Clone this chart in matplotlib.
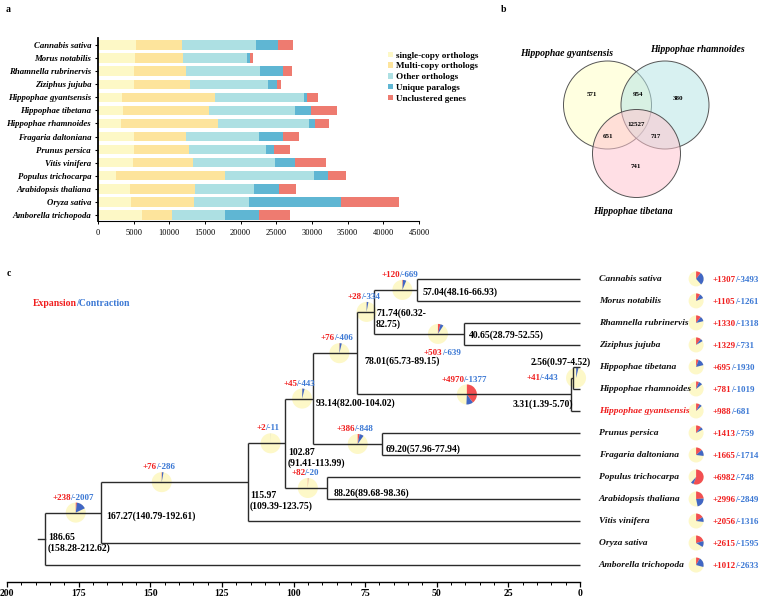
import matplotlib
matplotlib.use("Agg")
import matplotlib.pyplot as plt
import matplotlib.transforms as mtransforms
from matplotlib.patches import Circle, Wedge, Patch
import numpy as np

plt.rcParams['font.family'] = 'serif'
plt.rcParams['font.serif'] = ['Liberation Serif', 'DejaVu Serif']

# ---- panel a data: gene counts per category ----
species_a = ['Cannabis sativa', 'Morus notabilis', 'Rhamnella rubrinervis', 'Ziziphus jujuba',
             'Hippophae gyantsensis', 'Hippophae tibetana', 'Hippophae rhamnoides',
             'Fragaria daltoniana', 'Prunus persica', 'Vitis vinifera', 'Populus trichocarpa',
             'Arabidopsis thaliana', 'Oryza sativa', 'Amborella trichopoda']
single_copy = [5380, 5150, 5050, 5010, 3320, 3510, 3230, 5010, 5010, 4870, 2570, 4440, 4580, 6170]
multi_copy = [6410, 6730, 7250, 7850, 13050, 12020, 13560, 7290, 7710, 8510, 15250, 9170, 8940, 4170]
other_orth = [10340, 8940, 10390, 11000, 12540, 12120, 12770, 10250, 10900, 11410, 12400, 8190, 7670, 7480]
unique_para = [3130, 420, 3230, 1260, 420, 2190, 800, 3410, 1080, 2860, 2060, 3600, 12910, 4770]
unclustered = [2060, 510, 1310, 470, 1540, 3610, 2060, 2250, 2240, 4300, 2480, 2340, 8140, 4310]
categories = ['single-copy orthologs', 'Multi-copy orthologs', 'Other orthologs',
              'Unique paralogs', 'Unclustered genes']
cat_colors = ['#fdf8c6', '#fde49c', '#ade0e3', '#5fb6d3', '#ee7b70']

# ---- panel b data: venn counts ----
venn_names = ['Hippophae gyantsensis', 'Hippophae rhamnoides', 'Hippophae tibetana']
venn_counts = {'g': 571, 'r': 380, 't': 741, 'gr': 954, 'gt': 651, 'rt': 717, 'grt': 12527}

# ---- panel c data: dated tree ----
leaves = ['Cannabis sativa', 'Morus notabilis', 'Rhamnella rubrinervis', 'Ziziphus jujuba',
          'Hippophae tibetana', 'Hippophae rhamnoides', 'Hippophae gyantsensis',
          'Prunus persica', 'Fragaria daltoniana', 'Populus trichocarpa',
          'Arabidopsis thaliana', 'Vitis vinifera', 'Oryza sativa', 'Amborella trichopoda']
leaf_exp = [1307, 1105, 1330, 1329, 695, 781, 988, 1413, 1665, 6982, 2996, 2056, 2615, 1012]
leaf_con = [3493, 1261, 1318, 731, 1930, 1019, 681, 759, 1714, 748, 2849, 1316, 1595, 2633]

# internal node: (children, age, CI)
nodes = {
    'n57': (['Cannabis sativa', 'Morus notabilis'], 57.04, (48.16, 66.93)),
    'n41': (['Rhamnella rubrinervis', 'Ziziphus jujuba'], 40.65, (28.79, 52.55)),
    'n72': (['n57', 'n41'], 71.74, (60.32, 82.75)),
    'n2': (['Hippophae tibetana', 'Hippophae rhamnoides'], 2.56, (0.97, 4.52)),
    'n3': (['n2', 'Hippophae gyantsensis'], 3.31, (1.39, 5.70)),
    'n78': (['n72', 'n3'], 78.01, (65.73, 89.15)),
    'n69': (['Prunus persica', 'Fragaria daltoniana'], 69.20, (57.96, 77.94)),
    'n93': (['n78', 'n69'], 93.14, (82.00, 104.02)),
    'n88': (['Populus trichocarpa', 'Arabidopsis thaliana'], 88.26, (89.68, 98.36)),
    'n103': (['n93', 'n88'], 102.87, (91.41, 113.99)),
    'n116': (['n103', 'Vitis vinifera'], 115.97, (109.39, 123.75)),
    'n167': (['n116', 'Oryza sativa'], 167.27, (140.79, 192.61)),
    'n186': (['n167', 'Amborella trichopoda'], 186.65, (158.28, 212.62)),
}
node_changes = {
    'n167': (238, 2007), 'n116': (76, 286), 'n103': (2, 11), 'n93': (45, 443),
    'n88': (82, 20), 'n78': (76, 406), 'n69': (386, 848), 'n72': (28, 334),
    'n57': (120, 669), 'n41': (503, 639), 'n3': (4970, 1377), 'n2': (41, 443),
}
total_families = 12500

RED = '#f01e1e'
BLUE = '#3b78d4'
PIE_RED = '#f24f52'
PIE_BLUE = '#4166c4'
PIE_BG = '#fdf8c8'
LINE = '#2b2b2b'

fig = plt.figure(figsize=(7.6, 5.97), dpi=100)
renderer = fig.canvas.get_renderer()

# ================= panel a =================
ax_a = fig.add_axes([98 / 760, 1 - 221 / 597, 321 / 760, 183 / 597])
ypos = np.arange(len(species_a))
left = np.zeros(len(species_a))
handles = []
for vals, col, lab in zip([single_copy, multi_copy, other_orth, unique_para, unclustered],
                          cat_colors, categories):
    ax_a.barh(ypos, vals, left=left, height=0.72, color=col, linewidth=0)
    left += np.array(vals)
    handles.append(Patch(facecolor=col, label=lab))
ax_a.set_xlim(0, 45000)
ax_a.set_ylim(13.46, -0.54)
ax_a.set_xticks(range(0, 45001, 5000))
ax_a.set_xticklabels([str(v) for v in range(0, 45001, 5000)], fontsize=6)
ax_a.set_yticks(ypos)
ax_a.set_yticklabels(species_a, fontsize=6.3, fontweight='bold', fontstyle='italic')
for s in ['top', 'right']:
    ax_a.spines[s].set_visible(False)
ax_a.spines['left'].set_linewidth(1.3)
ax_a.spines['bottom'].set_linewidth(0.8)
ax_a.tick_params(axis='x', length=2.5, width=0.7, pad=3)
ax_a.tick_params(axis='y', length=2, width=0.8, pad=3)
fig.legend(handles=handles, loc='upper left', bbox_to_anchor=(384 / 760, 1 - 48 / 597),
           frameon=False, prop={'size': 6.6, 'weight': 'bold'}, handlelength=0.55,
           handleheight=0.55, handletextpad=0.4, labelspacing=0.3, borderaxespad=0)
fig.text(6 / 760, 1 - 9 / 597, 'a', fontsize=7, fontweight='bold', va='center')

# ================= panel b =================
ax_b = fig.add_axes([500 / 760, 1 - 250 / 597, 260 / 760, 250 / 597])
ax_b.set_xlim(500, 760)
ax_b.set_ylim(250, 0)
ax_b.axis('off')
circles = [((607.5, 105), '#ffffc8'), ((665, 105), '#b8e6e6'), ((636.5, 153.5), '#ffc6d0')]
for (cx, cy), col in circles:
    ax_b.add_patch(Circle((cx, cy), 44, facecolor=col, alpha=0.55, edgecolor='none'))
    ax_b.add_patch(Circle((cx, cy), 44, facecolor='none', edgecolor='#555555', linewidth=0.7))
name_pos = [(567, 53), (697, 50), (633, 211)]
for name, (tx, ty) in zip(venn_names, name_pos):
    ax_b.text(tx, ty, name, fontsize=7, fontweight='bold', fontstyle='italic',
              ha='center', va='center')
count_pos = {'g': (592, 94), 'r': (678, 99), 't': (636, 167), 'gr': (638, 95),
             'gt': (608, 136), 'rt': (656, 136), 'grt': (636, 125)}
for k, (tx, ty) in count_pos.items():
    ax_b.text(tx, ty, str(venn_counts[k]), fontsize=5, fontweight='bold', ha='center', va='center')
fig.text(501 / 760, 1 - 9 / 597, 'b', fontsize=7, fontweight='bold', va='center')

# ================= panel c =================
ax_c = fig.add_axes([0, 1 - 582 / 597, 1, (582 - 258) / 597])
ax_c.set_xlim(202.44, -62.8)
ax_c.set_ylim(13.77, -0.95)
for s in ['top', 'right', 'left']:
    ax_c.spines[s].set_visible(False)
ax_c.spines['bottom'].set_bounds(0, 200)
ax_c.spines['bottom'].set_linewidth(1.0)
ax_c.set_yticks([])
ax_c.set_xticks(range(0, 201, 25))
ax_c.set_xticks(range(0, 201, 5), minor=True)
ax_c.set_xticklabels([str(v) for v in range(0, 201, 25)], fontsize=7, fontweight='bold')
ax_c.tick_params(axis='x', which='major', length=3.5, width=0.9, pad=1.5)
ax_c.tick_params(axis='x', which='minor', length=2, width=0.7)

ypos_c = {name: i for i, name in enumerate(leaves)}
age = {name: 0.0 for name in leaves}


def layout(n):
    if n in ypos_c:
        return ypos_c[n]
    kids, a, _ = nodes[n]
    ys = [layout(k) for k in kids]
    ypos_c[n] = sum(ys) / len(ys)
    age[n] = a
    return ypos_c[n]


layout('n186')

for n, (kids, a, _) in nodes.items():
    ys = [ypos_c[k] for k in kids]
    ax_c.plot([a, a], [min(ys), max(ys)], color=LINE, lw=1.0, solid_capstyle='butt')
    for k in kids:
        ax_c.plot([a, age[k]], [ypos_c[k], ypos_c[k]], color=LINE, lw=1.0, solid_capstyle='butt')
# root stub
ax_c.plot([age['n186'], age['n186'] + 2.5], [ypos_c['n186']] * 2, color=LINE, lw=1.0)


def pie(x, y, exp, con, r):
    trans = fig.dpi_scale_trans + mtransforms.ScaledTranslation(x, y, ax_c.transData)
    ax_c.add_patch(Circle((0, 0), r, facecolor=PIE_BG, edgecolor='none', transform=trans))
    d_exp = 360 * exp / total_families
    d_con = 360 * con / total_families
    ax_c.add_patch(Wedge((0, 0), r, 90 - d_exp, 90, facecolor=PIE_RED, edgecolor='none',
                         transform=trans))
    ax_c.add_patch(Wedge((0, 0), r, 90 - d_exp - d_con, 90 - d_exp, facecolor=PIE_BLUE,
                         edgecolor='none', transform=trans))


def text_w(s, size):
    t = ax_c.text(0, 0, s, fontsize=size, fontweight='bold')
    w = t.get_window_extent(renderer).width
    t.remove()
    return w * 72 / fig.dpi


def two_tone(x, y, first, second, ha='center', size=6.5):
    gap = 0.6
    w1 = text_w(first, size)
    w2 = text_w(second, size)
    total = w1 + w2 - gap
    start = {'left': 0, 'center': -total / 2, 'right': -total}[ha]
    dy = -0.33 * size
    ax_c.annotate(first, xy=(x, y), xytext=(start, dy), textcoords='offset points',
                  ha='left', va='baseline', fontsize=size, fontweight='bold', color=RED)
    ax_c.annotate(second, xy=(x, y), xytext=(start + w1 - gap, dy), textcoords='offset points',
                  ha='left', va='baseline', fontsize=size, fontweight='bold', color=BLUE)


# pies on branches (position along branch, label placement)
pie_age = {'n167': 176, 'n116': 146, 'n103': 108, 'n93': 97, 'n88': 95, 'n78': 84,
           'n69': 77.6, 'n72': 74.5, 'n57': 62, 'n41': 49.6, 'n3': 39.5, 'n2': 1.4}
for n, (e, c) in node_changes.items():
    px, py = pie_age[n], ypos_c[n]
    pie(px, py, e, c, 0.1)
    if n == 'n41':
        two_tone(px - 1.5, py + 0.8, f'+{e}', f'/-{c}')
    elif n == 'n2':
        two_tone(px + 6.3, py - 0.05, f'+{e}', f'/-{c}', ha='right')
    else:
        two_tone(px + 1, py - 0.72, f'+{e}', f'/-{c}')

# node age labels
label_pos = {
    'n186': (185.7, 12.0), 'n167': (165.4, 10.77), 'n116': (115.2, 10.1),
    'n103': (101.9, 8.14), 'n88': (85.9, 9.73), 'n93': (92.1, 5.64),
    'n78': (75.4, 3.73), 'n72': (71.2, 1.82), 'n57': (54.8, 0.59),
    'n41': (38.7, 2.55), 'n69': (67.7, 7.73), 'n2': (17.1, 3.77), 'n3': (23.4, 5.68),
}
for n, (lx, ly) in label_pos.items():
    _, a, (lo, hi) = nodes[n]
    if n in ('n186', 'n116', 'n103'):
        s = f'{a:.2f}\n({lo:.2f}-{hi:.2f})'
    elif n == 'n72':
        s = f'{a:.2f}({lo:.2f}-\n{hi:.2f})'
    else:
        s = f'{a:.2f}({lo:.2f}-{hi:.2f})'
    ax_c.text(lx, ly, s, fontsize=7, fontweight='bold', ha='left', va='center',
              linespacing=1.25)

# leaf labels, pies and counts
for i, name in enumerate(leaves):
    col = RED if name == 'Hippophae gyantsensis' else '#111111'
    ax_c.text(-6.6, i, name, fontsize=6.8, fontweight='bold', fontstyle='italic',
              color=col, ha='left', va='center')
    pie(-40.5, i, leaf_exp[i], leaf_con[i], 0.075)
    two_tone(-46.4, i, f'+{leaf_exp[i]}', f'/-{leaf_con[i]}', ha='left')

two_tone(190.9, 1.09, 'Expansion', '/Contraction', ha='left', size=7)
fig.text(7 / 760, 1 - 273 / 597, 'c', fontsize=7, fontweight='bold', va='center')

fig.savefig('out.png', dpi=100)
